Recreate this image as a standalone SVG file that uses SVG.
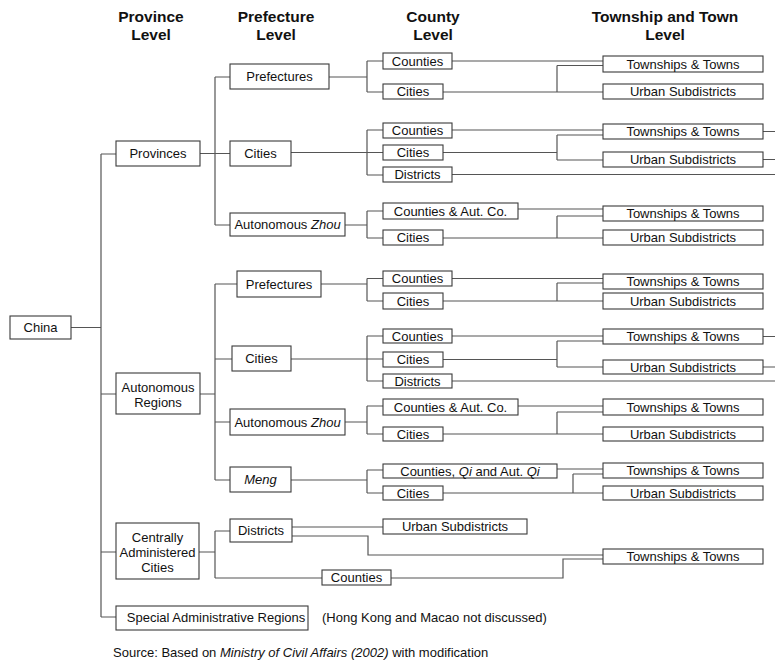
<svg xmlns="http://www.w3.org/2000/svg" width="775" height="663" viewBox="0 0 775 663">
<style>
.b{fill:#fff;stroke:#3a3a3a;stroke-width:1.1}
.t{font-family:"Liberation Sans",Arial,sans-serif;font-size:13px;fill:#111;text-anchor:middle}
.h{font-family:"Liberation Sans",Arial,sans-serif;font-size:15.5px;font-weight:bold;fill:#111;text-anchor:middle}
.c{fill:none;stroke:#555;stroke-width:1.2}
.i{font-style:italic}
</style>
<rect width="775" height="663" fill="#fff"/>
<g id="headers">
<text class="h" x="151" y="22">Province</text><text class="h" x="151" y="40">Level</text>
<text class="h" x="276" y="22">Prefecture</text><text class="h" x="276" y="40">Level</text>
<text class="h" x="433" y="22">County</text><text class="h" x="433" y="40">Level</text>
<text class="h" x="665" y="22">Township and Town</text><text class="h" x="665" y="40">Level</text>
</g>
<g id="connectors" class="c">
<path d="M71,327.5H101M101,154V617M101,154H116M101,394H116M101,552H116M101,617H116"/>
<path d="M200,153.5H215M215,77V225M215,77H230M215,153.5H230M215,225H230"/>
<path d="M329,77H367M367,61V92M367,61H383M367,92H383"/>
<path d="M452,61H603M557,65.5H603M557,65.5V92M443,92H603"/>
<path d="M291,152.5H383M367,130V175M367,130H383M367,175H383"/>
<path d="M452,130H603M557,135H603M557,135V160M557,160H603M443,152.5H557M452,174.5H775M763,131.5H775M763,159.5H775"/>
<path d="M345,225H367M367,211V238M367,211H383M367,238H383"/>
<path d="M518,209H603M557,216H603M557,216V238M443,238H603"/>
<path d="M200,394H215M215,284V480M215,284H237M215,359H232M215,422H230M215,480H230"/>
<path d="M321,284H367M367,278.5V301M367,278.5H383M367,301H383"/>
<path d="M452,278.5H603M557,283H603M557,283V301M443,301H603"/>
<path d="M291,359H383M367,336V381M367,336H383M367,381H383"/>
<path d="M452,336H603M557,341H603M557,341V367M557,367H603M443,359.5H557M452,381H775M763,336.5H775M763,367H775"/>
<path d="M345,422H367M367,406V434M367,406H383M367,434H383"/>
<path d="M518,406H603M557,412H603M557,412V434M443,434H603"/>
<path d="M291,480H367M367,470V493M367,470H383M367,493H383"/>
<path d="M557,469H603M573,474H603M573,474V493M443,493H603"/>
<path d="M199,552H215M215,531V578M215,531H230M215,578H322"/>
<path d="M292,527H383M292,536H368V555H603"/>
<path d="M391,578H563V559H603"/>
</g>
<g id="china"><rect class="b" x="10" y="316" width="61" height="23"/><text class="t" x="40.5" y="332">China</text></g>
<g id="provinces"><rect class="b" x="116" y="141" width="84" height="25"/><text class="t" x="158" y="158">Provinces</text></g>
<g id="autonomous-regions"><rect class="b" x="116" y="373" width="84" height="41"/><text class="t" x="158" y="391.5">Autonomous</text><text class="t" x="158" y="406.5">Regions</text></g>
<g id="central-cities"><rect class="b" x="116" y="523" width="83" height="56"/><text class="t" x="157.5" y="541.5">Centrally</text><text class="t" x="157.5" y="557">Administered</text><text class="t" x="157.5" y="572">Cities</text></g>
<g id="sar"><rect class="b" x="116" y="606" width="192" height="24"/><text class="t" x="216" y="622">Special Administrative Regions</text></g>
<g id="sar-note"><text class="t" x="322" y="622" style="text-anchor:start">(Hong Kong and Macao not discussed)</text></g>
<g id="p-prefectures-1"><rect class="b" x="230" y="64" width="99" height="25"/><text class="t" x="279.5" y="81">Prefectures</text></g>
<g id="p-cities-1"><rect class="b" x="230" y="141" width="61" height="25"/><text class="t" x="260.5" y="158">Cities</text></g>
<g id="p-zhou-1"><rect class="b" x="230" y="213" width="115" height="23"/><text class="t" x="287.5" y="229">Autonomous <tspan class="i">Zhou</tspan></text></g>
<g id="p-prefectures-2"><rect class="b" x="237" y="271" width="84" height="26"/><text class="t" x="279" y="288.5">Prefectures</text></g>
<g id="p-cities-2"><rect class="b" x="232" y="346" width="59" height="25"/><text class="t" x="261.5" y="363">Cities</text></g>
<g id="p-zhou-2"><rect class="b" x="230" y="409" width="115" height="26"/><text class="t" x="287.5" y="426.5">Autonomous <tspan class="i">Zhou</tspan></text></g>
<g id="p-meng"><rect class="b" x="230" y="467" width="61" height="25"/><text class="t i" x="260.5" y="484">Meng</text></g>
<g id="p-districts"><rect class="b" x="230" y="519" width="62" height="23"/><text class="t" x="261" y="535">Districts</text></g>
<g id="c1-counties"><rect class="b" x="383" y="53" width="69" height="16"/><text class="t" x="417.5" y="65.5">Counties</text></g>
<g id="c1-cities"><rect class="b" x="383" y="84" width="60" height="15"/><text class="t" x="413" y="96">Cities</text></g>
<g id="c2-counties"><rect class="b" x="383" y="123" width="69" height="15"/><text class="t" x="417.5" y="135">Counties</text></g>
<g id="c2-cities"><rect class="b" x="383" y="145" width="60" height="15"/><text class="t" x="413" y="157">Cities</text></g>
<g id="c2-districts"><rect class="b" x="383" y="167" width="69" height="15"/><text class="t" x="417.5" y="179">Districts</text></g>
<g id="c3-counties"><rect class="b" x="383" y="203" width="135" height="16"/><text class="t" x="450.5" y="215.5">Counties &amp; Aut. Co.</text></g>
<g id="c3-cities"><rect class="b" x="383" y="230" width="60" height="15"/><text class="t" x="413" y="242">Cities</text></g>
<g id="c4-counties"><rect class="b" x="383" y="271" width="69" height="15"/><text class="t" x="417.5" y="283">Counties</text></g>
<g id="c4-cities"><rect class="b" x="383" y="293" width="60" height="16"/><text class="t" x="413" y="305.5">Cities</text></g>
<g id="c5-counties"><rect class="b" x="383" y="329" width="69" height="14"/><text class="t" x="417.5" y="340.5">Counties</text></g>
<g id="c5-cities"><rect class="b" x="383" y="352" width="60" height="15"/><text class="t" x="413" y="364">Cities</text></g>
<g id="c5-districts"><rect class="b" x="383" y="374" width="69" height="14"/><text class="t" x="417.5" y="385.5">Districts</text></g>
<g id="c6-counties"><rect class="b" x="383" y="399" width="135" height="16"/><text class="t" x="450.5" y="411.5">Counties &amp; Aut. Co.</text></g>
<g id="c6-cities"><rect class="b" x="383" y="427" width="60" height="14"/><text class="t" x="413" y="438.5">Cities</text></g>
<g id="c7-counties"><rect class="b" x="383" y="464" width="174" height="14"/><text class="t" x="470" y="475.5">Counties, <tspan class="i">Qi</tspan> and Aut. <tspan class="i">Qi</tspan></text></g>
<g id="c7-cities"><rect class="b" x="383" y="486" width="60" height="14"/><text class="t" x="413" y="497.5">Cities</text></g>
<g id="c8-urban"><rect class="b" x="383" y="519" width="144" height="15"/><text class="t" x="455" y="531">Urban Subdistricts</text></g>
<g id="c8-counties"><rect class="b" x="322" y="570" width="69" height="15"/><text class="t" x="356.5" y="582">Counties</text></g>
<g id="t1-townships"><rect class="b" x="603" y="56" width="160" height="16"/><text class="t" x="683" y="68.5">Townships &amp; Towns</text></g>
<g id="t1-urban"><rect class="b" x="603" y="84" width="160" height="15"/><text class="t" x="683" y="96">Urban Subdistricts</text></g>
<g id="t2-townships"><rect class="b" x="603" y="124" width="160" height="15"/><text class="t" x="683" y="136">Townships &amp; Towns</text></g>
<g id="t2-urban"><rect class="b" x="603" y="152" width="160" height="15"/><text class="t" x="683" y="164">Urban Subdistricts</text></g>
<g id="t3-townships"><rect class="b" x="603" y="206" width="160" height="15"/><text class="t" x="683" y="218">Townships &amp; Towns</text></g>
<g id="t3-urban"><rect class="b" x="603" y="230" width="160" height="15"/><text class="t" x="683" y="242">Urban Subdistricts</text></g>
<g id="t4-townships"><rect class="b" x="603" y="274" width="160" height="15"/><text class="t" x="683" y="286">Townships &amp; Towns</text></g>
<g id="t4-urban"><rect class="b" x="603" y="293" width="160" height="16"/><text class="t" x="683" y="305.5">Urban Subdistricts</text></g>
<g id="t5-townships"><rect class="b" x="603" y="329" width="160" height="15"/><text class="t" x="683" y="341">Townships &amp; Towns</text></g>
<g id="t5-urban"><rect class="b" x="603" y="360" width="160" height="14"/><text class="t" x="683" y="371.5">Urban Subdistricts</text></g>
<g id="t6-townships"><rect class="b" x="603" y="399" width="160" height="16"/><text class="t" x="683" y="411.5">Townships &amp; Towns</text></g>
<g id="t6-urban"><rect class="b" x="603" y="427" width="160" height="14"/><text class="t" x="683" y="438.5">Urban Subdistricts</text></g>
<g id="t7-townships"><rect class="b" x="603" y="463" width="160" height="15"/><text class="t" x="683" y="475">Townships &amp; Towns</text></g>
<g id="t7-urban"><rect class="b" x="603" y="486" width="160" height="14"/><text class="t" x="683" y="497.5">Urban Subdistricts</text></g>
<g id="t8-townships"><rect class="b" x="603" y="549" width="160" height="15"/><text class="t" x="683" y="561">Townships &amp; Towns</text></g>
<g id="source"><text class="t" x="113" y="657" style="text-anchor:start">Source: Based on <tspan class="i">Ministry of Civil Affairs (2002)</tspan> with modification</text></g>
</svg>
